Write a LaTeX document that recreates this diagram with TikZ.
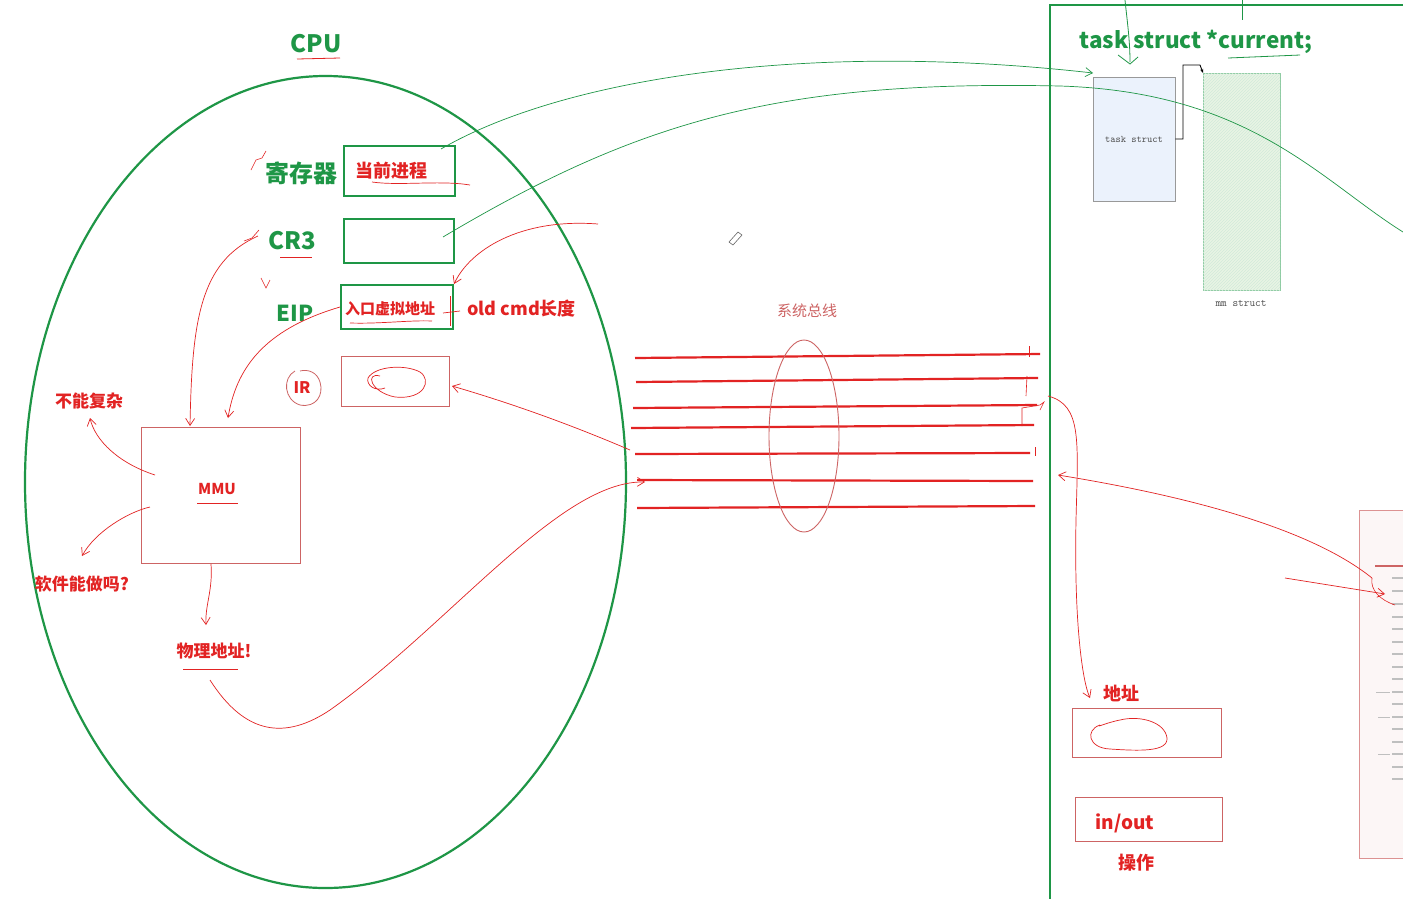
\documentclass[tikz,border=0pt]{standalone}
\usepackage{fontspec}
\setmainfont{Noto Sans CJK SC}
\usetikzlibrary{arrows.meta,patterns}
\definecolor{gr}{RGB}{30,150,70}
\definecolor{rd}{RGB}{226,35,35}
\definecolor{lrd}{RGB}{205,100,100}
\definecolor{tblue}{RGB}{235,242,252}
\definecolor{tgreen}{RGB}{232,244,228}
\tikzset{
  gbox/.style={draw=gr,line width=2pt,inner sep=0pt},
  rbox/.style={draw=lrd,line width=0.9pt,inner sep=0pt},
  gtxt/.style={text=gr,font=\bfseries\fontsize{24}{24}\selectfont,inner sep=0pt},
  rtxt/.style={text=rd,font=\bfseries\fontsize{17}{17}\selectfont,inner sep=0pt},
  rarr/.style={draw=rd,line width=0.7pt,-{Straight Barb[length=7pt,width=9pt]}},
  garr/.style={draw=gr,line width=0.7pt,-{Straight Barb[length=7pt,width=9pt]}},
  bus/.style={draw=rd,line width=2.2pt},
  tiny/.style={text=black!70,font=\ttfamily\fontsize{11}{11}\selectfont,inner sep=0pt}
}
\begin{document}
\begin{tikzpicture}[x=1pt,y=-1pt]
\clip (0,0) rectangle (1403,898);
\fill[white] (0,0) rectangle (1403,898);

% CPU ellipse
\draw[gr,line width=2.2pt] (325.5,482) ellipse [x radius=300.5, y radius=406];
\node[gtxt] (cpu) at (316,44) {CPU};
\draw[rd,line width=0.8pt] (297,59) -- (340,58);

% registers
\node[gtxt] (regl) at (301,173) {寄存器};
\node[gtxt] (cr3l) at (292,241) {CR3};
\draw[rd,line width=0.8pt] (280,257) -- (312,257);
\node[gtxt,font=\bfseries\fontsize{22}{22}\selectfont] (eipl) at (295,313) {EIP};

\node[gbox,minimum width=111pt,minimum height=50pt] (reg) at (399.5,171) {};
\node[gbox,minimum width=110pt,minimum height=44pt] (cr3) at (399,241) {};
\node[gbox,minimum width=112pt,minimum height=44pt] (eip) at (397,307) {};
\node[rtxt,font=\bfseries\fontsize{18}{18}\selectfont] (cur) at (391,171) {当前进程};
\draw[rd,line width=0.7pt] (372,182) .. controls (400,186) and (440,180) .. (470,185);
\node[rtxt,font=\bfseries\fontsize{15}{15}\selectfont] (va) at (390,309) {入口虚拟地址};
\draw[rd,line width=0.7pt] (350,323) .. controls (380,324) and (410,320) .. (432,321);
\draw[rd,line width=0.7pt] (450,296) -- (450,326);
\draw[rd,line width=0.7pt] (443,313) -- (460,311);
\node[rtxt,font=\bfseries\fontsize{18}{18}\selectfont,anchor=west] (old) at (467,309) {old cmd长度};

% IR
\node[rtxt,font=\bfseries\fontsize{16}{16}\selectfont] (ir) at (302,388) {IR};
\draw[lrd,line width=0.8pt] (295,371) .. controls (282,378) and (284,400) .. (300,405) .. controls (316,408) and (324,395) .. (320,382) .. controls (317,372) and (308,369) .. (300,371);
\node[rbox,minimum width=108pt,minimum height=50pt] (irbox) at (395,381) {};
\draw[rd,line width=0.7pt] (380,376) .. controls (365,372) and (370,392) .. (395,397) .. controls (425,400) and (432,380) .. (420,372) .. controls (405,364) and (375,366) .. (368,378) .. controls (366,385) and (375,392) .. (385,388);

% MMU
\node[rbox,minimum width=159pt,minimum height=136pt] (mmu) at (220.5,495) {};
\node[rtxt,font=\bfseries\fontsize{15}{15}\selectfont] (mmul) at (217,489) {MMU};
\draw[rd,line width=0.7pt] (197,503) -- (238,503);
\node[rtxt] (nofx) at (89,401) {不能复杂};
\node[rtxt] (soft) at (82,584) {软件能做吗?};
\node[rtxt] (phys) at (214,651) {物理地址!};
\draw[rd,line width=0.7pt] (183,669) -- (238,669);

% small ticks
\draw[rd,line width=0.6pt] (251,170) -- (256,160) -- (262,158) -- (266,151);
\draw[rd,line width=0.6pt] (244,241) -- (252,238) -- (259,230);
\draw[rd,line width=0.6pt] (261,278) -- (266,288) -- (270,280);

% red connectors inside CPU
\draw[rarr] (258,236) .. controls (200,262) and (192,320) .. (190,426);
\draw[rarr] (eip.west) .. controls (262,330) and (236,370) .. (228,418);
\draw[rarr] (155,475) .. controls (118,463) and (95,440) .. (90,418);
\draw[rarr] (150,507) .. controls (128,512) and (95,532) .. (82,556);
\draw[rarr] (211,564) .. controls (213,590) and (205,605) .. (206,625);
\draw[rarr] (598,224) .. controls (520,218) and (470,250) .. (eip.north east);
\draw[rarr] (210,680) .. controls (245,735) and (285,740) .. (330,710) .. controls (450,625) and (560,480) .. (645,482);
\draw[rarr] (630,450) .. controls (560,420) and (500,400) .. (452,386);

% bus
\draw[bus] (635,358) -- (1040,354);
\draw[bus] (636,382) -- (1038,378);
\draw[bus] (633,408) -- (1037,405);
\draw[bus] (631,428) -- (1034,425);
\draw[bus] (635,454) -- (1030,453);
\draw[bus] (637,480) -- (1033,481);
\draw[bus] (637,508) -- (1035,506);
\draw[lrd,line width=0.9pt] (804,436) ellipse [x radius=35, y radius=96];
\node[text=lrd,font=\fontsize{15}{15}\selectfont,inner sep=0pt] (busl) at (807,311) {系统总线};
\draw[rd,line width=0.6pt] (1029,346) -- (1029,357);
\draw[rd,line width=0.6pt] (1027,376) -- (1026,396);
\draw[rd,line width=0.6pt] (1022,426) -- (1022,408) -- (1040,405) -- (1044,402) -- (1040,410);
\draw[rd,line width=0.6pt] (1035,447) -- (1035,456);

% pencil
\draw[black!60,line width=0.6pt] (729,242) -- (738,232) -- (742,235) -- (733,245) -- cycle;

% right frame
\draw[gr,line width=2.2pt] (1050,905) -- (1050,5) -- (1410,5);
\node[gtxt,font=\bfseries\fontsize{22.5}{22.5}\selectfont] (tsc) at (1196,42) {task struct *current;};
\draw[gr,line width=0.8pt] (1228,58) -- (1300,55);
\draw[gr,line width=0.8pt] (1125,0) .. controls (1127,20) and (1130,40) .. (1130,62);
\draw[gr,line width=0.8pt] (1118,55) -- (1130,64) -- (1138,57);
\draw[gr,line width=0.8pt] (1242,0) -- (1242,20);

\node[draw=black!40,fill=tblue,line width=0.8pt,inner sep=0pt,minimum width=82pt,minimum height=124pt] (tsk) at (1134,139) {};
\node[tiny,font=\ttfamily\fontsize{10}{10}\selectfont] (tskl) at (1134,139) {task struct};
\node[draw=gr!50,fill=tgreen,line width=0.8pt,inner sep=0pt,minimum width=77pt,minimum height=217pt] (mm) at (1241.5,181.5) {};
\fill[pattern=north east lines,pattern color=gr!20] (1203,73) rectangle (1280,290);
\node[tiny] (mml) at (1241,303) {mm struct};
\draw[black,line width=0.9pt,-{Stealth[length=4pt]}] (tsk.east) -- (1183,139) -- (1183,65) -- (1200,65) -- (1203,73);

% green long connectors
\draw[garr] (reg.north east) ++(-15,4) .. controls (560,80) and (800,40) .. (1093,73);
\draw[gr,line width=0.7pt] (cr3.east) ++(-12,-4) .. controls (640,120) and (780,80) .. (1060,86) .. controls (1250,92) and (1320,180) .. (1403,232);

% memory panel
\node[draw=lrd!70,fill=lrd!6,line width=0.8pt,inner sep=0pt,minimum width=60pt,minimum height=348pt] (mem) at (1389,684) {};
\foreach \yy in {578,591,604,617,629,642,654,667,679,692,704,717,729,742,754,767,779} {
  \draw[black!25,line width=1.2pt] (1392,\yy) -- (1403,\yy);
}
\draw[black!25,line width=1pt] (1376,692) -- (1390,692);
\draw[black!25,line width=1pt] (1378,717) -- (1390,717);
\draw[black!25,line width=1pt] (1378,754) -- (1390,754);
\draw[lrd,line width=1.4pt] (1375,566) -- (1403,566);

% red connectors on right
\draw[rarr] (1048,396) .. controls (1082,405) and (1078,440) .. (1076,520) .. controls (1074,620) and (1082,680) .. (1090,698);
\draw[rarr] (1372,578) .. controls (1300,520) and (1150,490) .. (1058,475);
\draw[rarr] (1285,578) -- (1385,594);
\draw[rd,line width=0.6pt] (1372,578) .. controls (1370,590) and (1380,600) .. (1395,605);

% lower right boxes
\node[rtxt,font=\bfseries\fontsize{18}{18}\selectfont] (addr) at (1121,693) {地址};
\node[rbox,minimum width=149pt,minimum height=49pt] (addrbox) at (1146.5,732.5) {};
\draw[rd,line width=0.7pt] (1100,725) .. controls (1085,730) and (1088,748) .. (1110,749) .. controls (1140,751) and (1168,752) .. (1167,738) .. controls (1165,722) and (1140,715) .. (1120,720) .. controls (1105,723) and (1096,728) .. (1100,725);
\node[rbox,minimum width=147pt,minimum height=44pt] (iobox) at (1148.5,819) {};
\node[rtxt,font=\bfseries\fontsize{19}{19}\selectfont] (io) at (1125,823) {in/out};
\node[rtxt,font=\bfseries\fontsize{18}{18}\selectfont] (op) at (1136,863) {操作};
\end{tikzpicture}
\end{document}
